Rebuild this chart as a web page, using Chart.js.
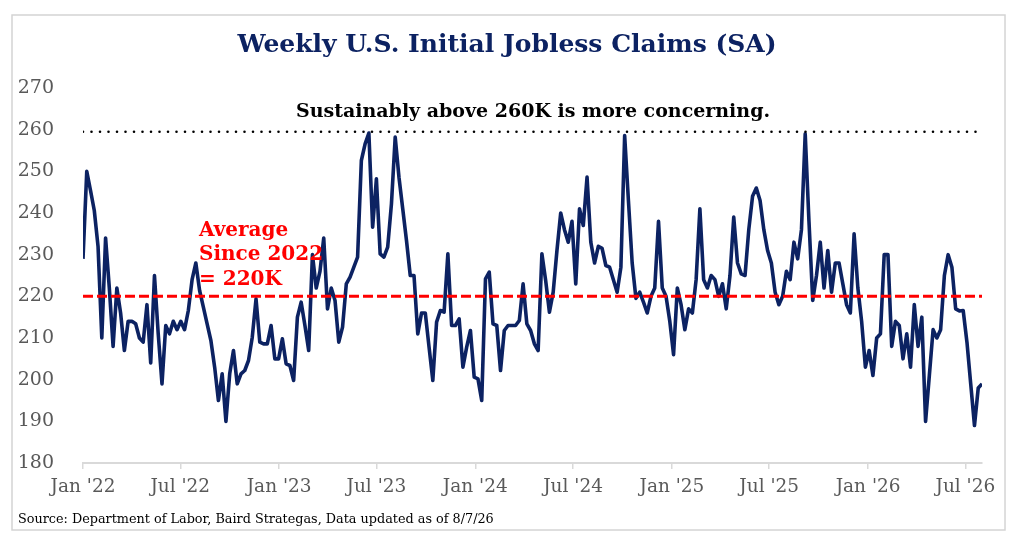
<!DOCTYPE html>
<html>
<head>
<meta charset="utf-8">
<title>Weekly U.S. Initial Jobless Claims (SA)</title>
<script src="https://cdn.jsdelivr.net/npm/chart.js@4.4.1/dist/chart.umd.min.js"></script>
<style>
  html, body { margin: 0; padding: 0; background: #fff; }
  canvas { display: block; }
</style>
</head>
<body>
<canvas id="chartClaims" width="1014" height="542"></canvas>
<script>
// weekly initial claims, thousands, first week ending 1 Jan 2022
const firstWeek = '2022-01-01';
const claims = [
  229, 250, 245.4, 240.6, 232, 210, 234, 222, 208, 222,
  216, 207, 214, 214, 213.4, 210, 209, 218, 204, 225,
  211, 199, 213, 211, 214, 212, 214, 212, 216.6, 224,
  228, 221.4, 217.4, 213.4, 209.4, 203, 195, 201.4, 190, 201.4,
  207, 199, 201.4, 202.2, 204.6, 210.2, 219.4, 209, 208.6, 208.6,
  213, 205, 205, 209.8, 203.8, 203.4, 199.8, 215, 218.6, 213,
  207, 230, 222, 226, 234, 217, 222, 219, 209, 212.6,
  223, 224.6, 227, 229.4, 252.6, 256.6, 259.2, 236.6, 248.2, 230.2,
  229.4, 231.8, 242.2, 258.2, 248.6, 241, 233.4, 225, 225, 211,
  216, 216, 207.8, 199.8, 213.8, 216.6, 216.2, 230.2, 213, 213,
  214.6, 203, 207.8, 211.8, 200.6, 200.2, 195, 224.2, 225.8, 213.4,
  213, 202.2, 211.8, 213, 213, 213, 214.2, 223, 213.4, 211.8,
  208.6, 207, 230.2, 223.8, 216.2, 221, 231, 240, 236, 233,
  238, 223, 241, 237, 248.6, 233, 228, 232, 231.5, 227.4,
  227, 224, 221, 227, 258.6, 243, 228, 219.5, 221, 218.6,
  216, 220, 222, 238, 222, 220, 214, 206, 222, 218,
  212, 217, 216, 224, 241, 224, 222, 225, 224, 220,
  223, 217, 225, 239, 228, 225.4, 225, 236, 244, 246,
  243, 236, 231, 228, 221, 218, 220, 226, 224, 233,
  229, 236, 259, 238, 219, 225, 233, 222, 231, 221,
  228, 228, 223, 218, 216, 235, 222, 214, 203, 207,
  201, 210, 211, 230, 230, 208, 214, 213, 205, 211,
  203, 218, 208, 215, 190, 201, 212, 210, 212, 225,
  230, 227, 217, 216.5, 216.6, 209, 199, 189, 198, 199
];
const averageLevel = 220;
const concernLevel = 259.5;
const tickDates = ['2022-01-01', '2022-07-01', '2023-01-01', '2023-07-01', '2024-01-01',
                   '2024-07-01', '2025-01-01', '2025-07-01', '2026-01-01', '2026-07-01'];
const tickLabels = ["Jan '22", "Jul '22", "Jan '23", "Jul '23", "Jan '24",
                    "Jul '24", "Jan '25", "Jul '25", "Jan '26", "Jul '26"];
const yTicks = [180, 190, 200, 210, 220, 230, 240, 250, 260, 270];

const DAY = 86400000;
const t0 = Date.parse(firstWeek);
const dayOf = d => Math.round((Date.parse(d) - t0) / DAY);
const tickDays = tickDates.map(dayOf);
const lastDay = (claims.length - 1) * 7;

const navy = '#0c2262';
const serif = '"DejaVu Serif", "Liberation Serif", serif';

const textPlugin = {
    id: 'texts',
    afterDraw(chart) {
        const ctx = chart.ctx;
        ctx.save();
        // frame
        ctx.strokeStyle = '#d4d4d4';
        ctx.lineWidth = 1.5;
        ctx.strokeRect(12, 15, 993, 515);

        ctx.textBaseline = 'middle';
        ctx.textAlign = 'center';
        ctx.fillStyle = navy;
        ctx.font = 'bold 25px ' + serif;
        ctx.fillText('Weekly U.S. Initial Jobless Claims (SA)', 507, 45);

        ctx.fillStyle = '#000';
        ctx.font = 'bold 19px ' + serif;
        ctx.fillText('Sustainably above 260K is more concerning.', 533, 112);

        ctx.textAlign = 'left';
        ctx.fillStyle = '#ff0000';
        ctx.font = 'bold 20px ' + serif;
        ctx.fillText('Average', 199, 231);
        ctx.fillText('Since 2022', 199, 255);
        ctx.fillText('= 220K', 199, 280);

        ctx.fillStyle = '#000';
        ctx.font = '12.8px ' + serif;
        ctx.fillText('Source: Department of Labor, Baird Strategas, Data updated as of 8/7/26', 18, 520);
        ctx.restore();
    }
};

new Chart(document.getElementById('chartClaims'), {
    type: 'line',
    data: {
        datasets: [{
            data: [{x: 0, y: averageLevel}, {x: lastDay, y: averageLevel}],
            borderColor: '#ff0000',
            borderWidth: 3,
            borderDash: [10, 4],
            pointRadius: 0
        }, {
            data: [{x: 0, y: concernLevel}, {x: lastDay, y: concernLevel}],
            borderColor: '#000',
            borderWidth: 2.6,
            borderDash: [0, 8.5],
            borderCapStyle: 'round',
            pointRadius: 0
        }, {
            data: claims.map((v, i) => ({x: i * 7, y: v})),
            borderColor: navy,
            borderWidth: 3.6,
            borderJoinStyle: 'round',
            tension: 0,
            pointRadius: 0
        }]
    },
    options: {
        responsive: false,
        animation: false,
        layout: { padding: { left: 0, right: 32, top: 88, bottom: 0 } },
        plugins: {
            legend: { display: false },
            tooltip: { enabled: false }
        },
        scales: {
            x: {
                type: 'linear',
                min: 0,
                max: lastDay,
                afterFit: s => { s.height = 79; },
                afterBuildTicks: s => { s.ticks = tickDays.map(v => ({ value: v })); },
                grid: { drawOnChartArea: false, tickLength: 6, color: '#d9d9d9', lineWidth: 1.5 },
                border: { color: '#d9d9d9', width: 2 },
                ticks: {
                    autoSkip: false,
                    maxRotation: 0,
                    padding: 7,
                    color: '#595959',
                    font: { family: serif, size: 18.5 },
                    callback: v => tickLabels[tickDays.indexOf(v)]
                }
            },
            y: {
                min: 180,
                max: 270,
                afterFit: s => { s.width = 83; },
                afterBuildTicks: s => { s.ticks = yTicks.map(v => ({ value: v })); },
                grid: { display: false },
                border: { display: false },
                ticks: {
                    padding: 21,
                    color: '#595959',
                    font: { family: serif, size: 19 }
                }
            }
        }
    },
    plugins: [textPlugin]
});
</script>
</body>
</html>
